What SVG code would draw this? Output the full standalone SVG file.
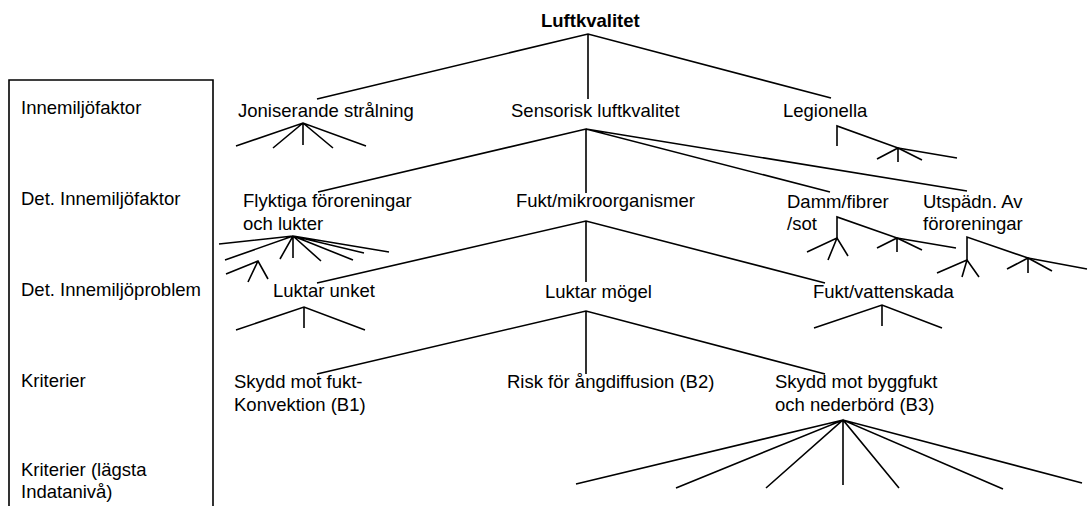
<svg xmlns="http://www.w3.org/2000/svg" width="1090" height="506" viewBox="0 0 1090 506">
  <style>
    text { font-family: "Liberation Sans", Arial, sans-serif; font-size: 18.5px; fill: #000; }
    .title { font-weight: bold; }
    .ln { stroke: #000; stroke-width: 1.6; fill: none; stroke-linecap: butt; stroke-linejoin: miter; }
    .frame { stroke: #000; stroke-width: 1.6; fill: none; }
  </style>
  <rect width="1090" height="506" fill="#fff"/>

  <!-- level legend -->
  <g id="legend">
    <path class="frame" d="M9,510 V80 H213 V510"/>
    <text x="21" y="114">Innemiljöfaktor</text>
    <text x="21" y="205">Det. Innemiljöfaktor</text>
    <text x="21" y="296">Det. Innemiljöproblem</text>
    <text x="21" y="387">Kriterier</text>
    <text x="21" y="476">Kriterier (lägsta</text>
    <text x="21" y="498">Indatanivå)</text>
  </g>

  <!-- tree nodes -->
  <g id="n-luftkvalitet"><text class="title" x="541" y="27">Luftkvalitet</text></g>
  <g id="n-joniserande"><text x="238" y="117">Joniserande strålning</text></g>
  <g id="n-sensorisk"><text x="511" y="117">Sensorisk luftkvalitet</text></g>
  <g id="n-legionella"><text x="783" y="117">Legionella</text></g>
  <g id="n-flyktiga"><text x="243" y="207">Flyktiga föroreningar</text><text x="243" y="230">och lukter</text></g>
  <g id="n-fukt-mikro"><text x="516" y="207">Fukt/mikroorganismer</text></g>
  <g id="n-damm"><text x="787" y="208">Damm/fibrer</text><text x="787" y="230">/sot</text></g>
  <g id="n-utspadn"><text x="923" y="208">Utspädn. Av</text><text x="923" y="230">föroreningar</text></g>
  <g id="n-unket"><text x="273" y="297">Luktar unket</text></g>
  <g id="n-mogel"><text x="545" y="298">Luktar mögel</text></g>
  <g id="n-vattenskada"><text x="813" y="298">Fukt/vattenskada</text></g>
  <g id="n-b1"><text x="234" y="388">Skydd mot fukt-</text><text x="234" y="411">Konvektion (B1)</text></g>
  <g id="n-b2"><text x="507" y="388">Risk för ångdiffusion (B2)</text></g>
  <g id="n-b3"><text x="775" y="388">Skydd mot byggfukt</text><text x="775" y="411">och nederbörd (B3)</text></g>

  <!-- connectors -->
  <g id="connectors" class="ln">
    <!-- Luftkvalitet -->
    <path d="M317,99 L588,34 L831,98 M588,34 V99"/>
    <!-- Joniserande strålning -->
    <path d="M236,146 L303,123 L366,146 M273,148 L303,123 L333,148 M303,123 V145"/>
    <!-- Sensorisk luftkvalitet -->
    <path d="M318,192 L586,129 L830,192 M586,129 L967,191 M586,129 V193"/>
    <!-- Legionella -->
    <path d="M837,146 V126 L898,148 L957,158"/>
    <path d="M877,159 L898,148 L922,160 M898,148 V162"/>
    <!-- Flyktiga föroreningar -->
    <path d="M219,244 L293,236 L389,252 M225,260 L293,236 L364,253 M280,259 L293,236 L353,260 M293,236 L321,261 M293,236 V258"/>
    <path d="M226,274 L258,261 L268,279 M258,261 L248,282"/>
    <!-- Fukt/mikroorganismer -->
    <path d="M317,283 L586,221 L825,283 M586,221 V282"/>
    <!-- Damm/fibrer -->
    <path d="M837,238 V217 L897,238 L956,248"/>
    <path d="M807,252 L837,238 L848,256 M837,238 L828,260"/>
    <path d="M877,248 L897,238 L922,250 M897,238 V252"/>
    <!-- Utspädn. Av föroreningar -->
    <path d="M967,260 V237 L1028,258 L1087,269"/>
    <path d="M937,273 L967,260 L979,277 M967,260 L962,277"/>
    <path d="M1007,269 L1028,258 L1052,271 M1028,258 V273"/>
    <!-- Luktar unket -->
    <path d="M236,330 L304,307 L365,330 M304,307 V328"/>
    <!-- Luktar mögel -->
    <path d="M317,374 L586,311 L825,374 M586,311 V374"/>
    <!-- Fukt/vattenskada -->
    <path d="M814,328 L882,305 L942,328 M882,305 V326"/>
    <!-- Skydd mot byggfukt och nederbörd -->
    <path d="M576,484 L843,420 L1082,483 M676,488 L843,420 L1003,489 M766,488 L843,420 L899,488 M843,420 V485"/>
  </g>
</svg>
